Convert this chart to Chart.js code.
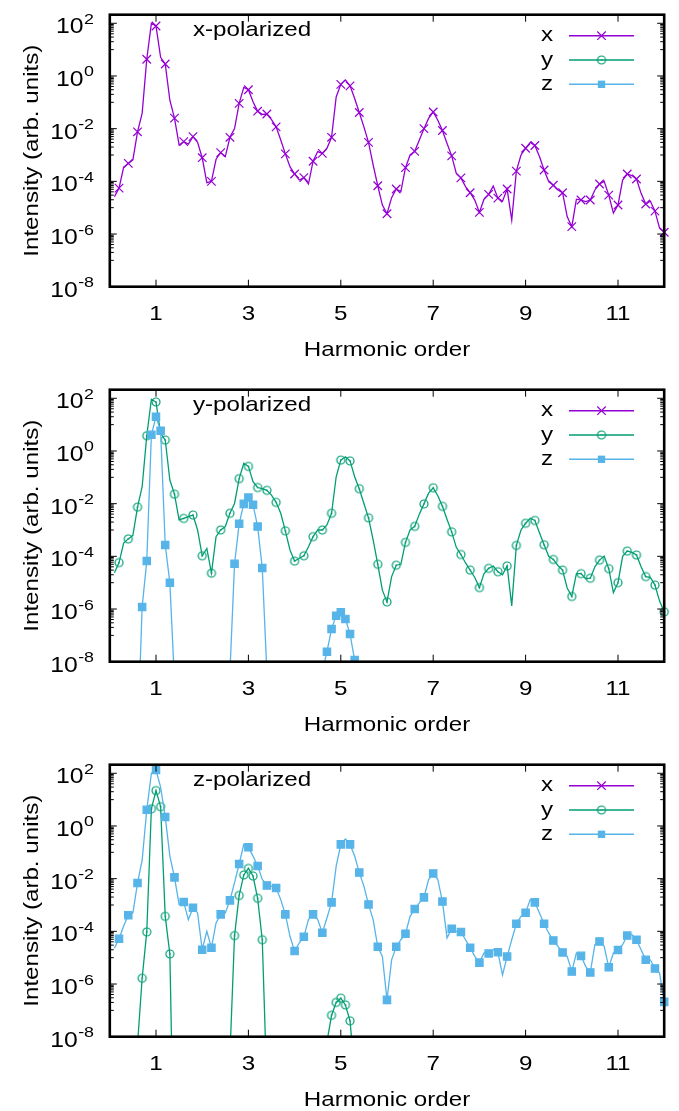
<!DOCTYPE html>
<html>
<head>
<meta charset="utf-8">
<script src="https://cdn.jsdelivr.net/npm/chart.js@4.4.1/dist/chart.umd.min.js"></script>
<style>
  html, body { margin: 0; padding: 0; background: #fff; overflow: hidden; }
  #wrap { position: relative; width: 679px; height: 1111px; }
  canvas { position: absolute; left: 0; }
</style>
</head>
<body>
<div id="wrap">
  <canvas id="panelX" width="679" height="375" style="top:0px"></canvas>
  <canvas id="panelY" width="679" height="375" style="top:375px"></canvas>
  <canvas id="panelZ" width="679" height="375" style="top:750px"></canvas>
</div>
<script>
// harmonic order of every sample (0.1 step)
const harmonic = [
  0.1, 0.2, 0.3, 0.4, 0.5, 0.6, 0.7, 0.8, 0.9, 1.0,
  1.1, 1.2, 1.3, 1.4, 1.5, 1.6, 1.7, 1.8, 1.9, 2.0,
  2.1, 2.2, 2.3, 2.4, 2.5, 2.6, 2.7, 2.8, 2.9, 3.0,
  3.1, 3.2, 3.3, 3.4, 3.5, 3.6, 3.7, 3.8, 3.9, 4.0,
  4.1, 4.2, 4.3, 4.4, 4.5, 4.6, 4.7, 4.8, 4.9, 5.0,
  5.1, 5.2, 5.3, 5.4, 5.5, 5.6, 5.7, 5.8, 5.9, 6.0,
  6.1, 6.2, 6.3, 6.4, 6.5, 6.6, 6.7, 6.8, 6.9, 7.0,
  7.1, 7.2, 7.3, 7.4, 7.5, 7.6, 7.7, 7.8, 7.9, 8.0,
  8.1, 8.2, 8.3, 8.4, 8.5, 8.6, 8.7, 8.8, 8.9, 9.0,
  9.1, 9.2, 9.3, 9.4, 9.5, 9.6, 9.7, 9.8, 9.9, 10.0,
  10.1, 10.2, 10.3, 10.4, 10.5, 10.6, 10.7, 10.8, 10.9, 11.0,
  11.1, 11.2, 11.3, 11.4, 11.5, 11.6, 11.7, 11.8, 11.9, 12.0
];

// x-polarized panel, x component
const xPolX = [
  2.6e-5, 5.5e-5, 3.5e-4, 4.8e-4, 6.5e-4, 7.6e-3, 3.8e-2, 4.3, 100, 79,
  5.1, 2.85, 0.12, 0.025, 2.4e-3, 3.2e-3, 2.6e-3, 5.0e-3, 3.0e-3, 7.9e-4,
  8.9e-5, 1.0e-4, 6.9e-4, 1.23e-3, 8.7e-4, 4.7e-3, 1.0e-2, 9.1e-2, 0.37, 0.30,
  0.105, 0.046, 0.035, 0.036, 0.022, 0.0117, 3.7e-3, 1.1e-3, 3.6e-4, 1.9e-4,
  1.12e-4, 1.38e-4, 7.9e-5, 5.8e-4, 1.35e-3, 1.15e-3, 1.8e-3, 4.7e-3, 0.16, 0.48,
  0.71, 0.42, 0.14, 0.041, 0.0117, 3.0e-3, 4.2e-4, 6.8e-5, 1.26e-5, 5.9e-6,
  2.4e-5, 5.1e-5, 4.1e-5, 3.3e-4, 1.0e-3, 1.38e-3, 3.7e-3, 1.0e-2, 0.0245, 0.043,
  0.021, 8.5e-3, 2.75e-3, 9.3e-4, 2.0e-4, 1.35e-4, 6.3e-5, 3.7e-5, 1.95e-5, 6.6e-6,
  2.1e-5, 3.2e-5, 6.6e-5, 2.3e-5, 1.74e-5, 5.1e-5, 3.4e-6, 2.45e-4, 1.0e-3, 1.8e-3,
  3.0e-3, 2.3e-3, 8.7e-4, 2.7e-4, 9.8e-5, 7.1e-5, 4.7e-5, 3.7e-5, 4.6e-6, 1.9e-6,
  2.1e-5, 1.95e-5, 1.7e-5, 1.95e-5, 4.7e-5, 7.9e-5, 1.0e-4, 3.0e-5, 6.2e-6, 1.26e-5,
  1.12e-4, 1.9e-4, 1.66e-4, 1.23e-4, 3.5e-5, 1.38e-5, 1.78e-5, 7.4e-6, 1.66e-6, 1.17e-6
];

// y-polarized panel, y component
const yPolY = [
  2.4e-5, 5.8e-5, 3.2e-4, 4.6e-4, 6.3e-4, 7.4e-3, 0.044, 3.8, 91, 72,
  4.7, 2.6, 0.079, 0.023, 2.4e-3, 2.75e-3, 3.2e-3, 3.7e-3, 1.0e-3, 1.05e-4,
  2.0e-4, 2.3e-5, 5.6e-4, 1.0e-3, 1.35e-3, 4.3e-3, 0.0102, 0.089, 0.34, 0.26,
  0.068, 0.041, 0.037, 0.032, 0.021, 0.0112, 4.3e-3, 9.3e-4, 1.74e-4, 6.6e-5,
  8.5e-5, 1.05e-4, 2.3e-4, 5.6e-4, 1.0e-3, 1.0e-3, 1.55e-3, 4.3e-3, 0.105, 0.45,
  0.6, 0.42, 0.105, 0.037, 0.0102, 2.9e-3, 4.2e-4, 5.0e-5, 5.2e-6, 1.86e-6,
  1.7e-5, 4.6e-5, 5.0e-5, 3.4e-4, 1.0e-3, 1.38e-3, 4.0e-3, 9.8e-3, 0.025, 0.04,
  0.02, 7.9e-3, 2.5e-3, 8.5e-4, 2.2e-4, 1.17e-4, 5.6e-5, 3.0e-5, 1.58e-5, 6.5e-6,
  2.2e-5, 3.5e-5, 4.3e-5, 2.6e-5, 2.0e-5, 4.3e-5, 1.32e-6, 2.6e-4, 1.0e-3, 1.8e-3,
  2.8e-3, 2.3e-3, 7.9e-4, 2.75e-4, 1.0e-4, 7.6e-5, 4.5e-5, 3.0e-5, 6.3e-6, 3.0e-6,
  2.2e-5, 2.2e-5, 1.41e-5, 1.48e-5, 4.0e-5, 7.2e-5, 1.02e-4, 3.4e-5, 4.2e-6, 1.0e-5,
  1.0e-4, 1.58e-4, 1.41e-4, 1.12e-4, 4.0e-5, 1.7e-5, 1.58e-5, 8.1e-6, 2.0e-6, 7.8e-7
];

// y-polarized panel, z component (only the parts near the plotted range)
const yPolZOrder = [
  0.6, 0.7, 0.8, 0.9, 1.0, 1.1, 1.2, 1.3, 1.4,
  2.6, 2.7, 2.8, 2.9, 3.0, 3.1, 3.2, 3.3, 3.4,
  4.6, 4.7, 4.8, 4.9, 5.0, 5.1, 5.2, 5.3, 5.4
];
const yPolZ = [
  8e-12, 1.2e-6, 6.6e-5, 4.1, 20, 5.9, 2.7e-4, 1.0e-5, 1.8e-9,
  3.9e-9, 5.2e-5, 1.74e-3, 9.8e-3, 0.017, 9.1e-3, 1.35e-3, 3.6e-5, 4e-9,
  4e-9, 2.4e-8, 1.74e-7, 5.6e-7, 7.6e-7, 4.2e-7, 1.12e-7, 1.15e-8, 1e-9
];

// z-polarized panel, z component
const zPolZ = [
  2.3e-5, 5.2e-5, 1.58e-4, 4.1e-4, 5.0e-4, 6.8e-3, 0.05, 4.1, 100, 133,
  30, 2.2, 0.072, 0.0112, 1.05e-3, 1.29e-3, 2.8e-4, 7.9e-4, 5.0e-4, 2.0e-5,
  1.0e-4, 2.4e-5, 2.1e-4, 4.4e-4, 5.0e-4, 1.5e-3, 7.1e-3, 0.036, 0.2, 0.155,
  0.072, 0.03, 9.3e-3, 5.5e-3, 5.2e-3, 4.4e-3, 1.6e-3, 4.4e-4, 6.5e-5, 1.78e-5,
  3.6e-5, 6.2e-5, 2.8e-4, 4.4e-4, 2.8e-4, 8.9e-5, 3.2e-4, 1.26e-3, 0.03, 0.2,
  0.32, 0.2, 0.072, 0.017, 5.2e-3, 1.05e-3, 2.8e-4, 2.6e-5, 1.12e-5, 2.5e-7,
  8.3e-6, 2.6e-5, 4.8e-5, 8.1e-5, 3.7e-4, 7.1e-4, 1.2e-3, 1.95e-3, 9.3e-3, 0.0158,
  9.3e-3, 1.35e-3, 5.6e-5, 1.26e-4, 1.0e-4, 9.5e-5, 4.8e-5, 2.4e-5, 1.12e-5, 6.5e-6,
  1.5e-5, 1.45e-5, 2.0e-5, 1.62e-5, 2.2e-6, 1.1e-5, 4.8e-5, 1.95e-4, 3.7e-4, 5.1e-4,
  1.6e-3, 1.26e-3, 5.0e-4, 1.95e-4, 8.7e-5, 4.5e-5, 2.7e-5, 1.58e-5, 1.12e-5, 3.0e-6,
  1.5e-5, 1.17e-5, 4.7e-6, 2.75e-6, 3.1e-5, 4.1e-5, 2.7e-5, 4.3e-6, 1.5e-5, 1.95e-5,
  3.1e-5, 6.9e-5, 7.6e-5, 4.8e-5, 2.0e-5, 8.3e-6, 8.3e-6, 3.9e-6, 2.6e-6, 2.1e-7
];

// z-polarized panel, y component
const zPolYOrder = [
  0.6, 0.7, 0.8, 0.9, 1.0, 1.1, 1.2, 1.3, 1.4,
  2.6, 2.7, 2.8, 2.9, 3.0, 3.1, 3.2, 3.3, 3.4,
  4.7, 4.8, 4.9, 5.0, 5.1, 5.2, 5.3
];
const zPolY = [
  5e-9, 1.66e-6, 9.5e-5, 4.5, 22, 5.4, 3.7e-4, 1.38e-5, 1e-14,
  1.9e-9, 6.9e-5, 2.3e-3, 0.0138, 0.0245, 0.0126, 1.8e-3, 4.8e-5, 1.3e-10,
  6.3e-9, 6.5e-8, 2.0e-7, 2.9e-7, 1.6e-7, 4.0e-8, 4e-10
];

const xTicks = [1, 3, 5, 7, 9, 11];
const xTickLabels = ['1', '3', '5', '7', '9', '11'];
const yTicks = [1e2, 1e0, 1e-2, 1e-4, 1e-6, 1e-8];
const yTickExponents = ['2', '0', '-2', '-4', '-6', '-8'];
const legendKeys = ['x', 'y', 'z'];

const TEXT_STRETCH = 1.15;
const FONT = '"Liberation Sans", Arial, Helvetica, sans-serif';

// open circle with a centre dot (gnuplot style)
function ringMark(color) {
  const c = document.createElement('canvas');
  c.width = 12; c.height = 12;
  const g = c.getContext('2d');
  g.strokeStyle = color; g.lineWidth = 1.2;
  g.beginPath(); g.arc(6, 6, 4.0, 0, Math.PI * 2); g.stroke();
  g.fillStyle = color;
  g.beginPath(); g.arc(6, 6, 0.8, 0, Math.PI * 2); g.fill();
  return c;
}
const ringImg = ringMark('#009e73');

const seriesStyle = {
  x: { color: '#9400d3', pointStyle: 'crossRot', radius: 6, order: 3 },
  y: { color: '#009e73', pointStyle: ringImg, radius: 4.5, order: 2 },
  z: { color: '#56b4e9', pointStyle: 'rect', radius: 5.2, order: 1 },
};

function lineSet(key, xs, ys, markEvery) {
  const s = seriesStyle[key];
  return {
    label: key,
    data: xs.map((h, i) => ({ x: h, y: ys[i] })),
    borderColor: s.color,
    backgroundColor: s.color,
    borderWidth: 1.3,
    tension: 0,
    pointStyle: s.pointStyle,
    pointRadius: c => (c.dataIndex % markEvery === markEvery - 1 ? s.radius : 0),
    pointBorderWidth: 1.2,
    pointBorderColor: s.color,
    pointBackgroundColor: s.color,
    clip: { left: 8, top: 8, right: 8, bottom: 0 },
    order: s.order,
  };
}

function putText(ctx, str, x, y, size, align, angle) {
  ctx.save();
  ctx.translate(x, y);
  if (angle) ctx.rotate(angle);
  ctx.scale(TEXT_STRETCH, 1);
  ctx.font = size + 'px ' + FONT;
  ctx.textAlign = align;
  ctx.textBaseline = 'alphabetic';
  ctx.fillStyle = '#000';
  ctx.fillText(str, 0, 0);
  ctx.restore();
}

function textWidth(ctx, str, size) {
  ctx.save();
  ctx.font = size + 'px ' + FONT;
  const w = ctx.measureText(str).width * TEXT_STRETCH;
  ctx.restore();
  return w;
}

function drawMark(ctx, key, x, y) {
  const s = seriesStyle[key];
  ctx.save();
  ctx.strokeStyle = s.color;
  ctx.fillStyle = s.color;
  ctx.lineWidth = 1.2;
  const d = s.radius * Math.SQRT1_2;
  if (key === 'x') {
    ctx.beginPath();
    ctx.moveTo(x - d, y - d); ctx.lineTo(x + d, y + d);
    ctx.moveTo(x - d, y + d); ctx.lineTo(x + d, y - d);
    ctx.stroke();
  } else if (key === 'y') {
    ctx.drawImage(ringImg, x - ringImg.width / 2, y - ringImg.height / 2);
  } else {
    ctx.fillRect(x - d, y - d, 2 * d, 2 * d);
  }
  ctx.restore();
}

// gnuplot-like frame: inward ticks, thick border, labels, key
function framePlugin(panelLabel) {
  return {
    id: 'gnuplotFrame',
    afterDraw(chart) {
      const { ctx, chartArea: a, scales: { x, y } } = chart;
      ctx.save();
      ctx.strokeStyle = '#000';
      ctx.lineWidth = 1;
      ctx.beginPath();
      xTicks.forEach(v => {
        const px = x.getPixelForValue(v);
        ctx.moveTo(px, a.bottom); ctx.lineTo(px, a.bottom - 7);
        ctx.moveTo(px, a.top); ctx.lineTo(px, a.top + 7);
      });
      yTicks.forEach(v => {
        const py = y.getPixelForValue(v);
        ctx.moveTo(a.left, py); ctx.lineTo(a.left + 7, py);
        ctx.moveTo(a.right, py); ctx.lineTo(a.right - 7, py);
        for (let k = 1; k <= 9; k++) {
          const m = k * v / 10;
          if (m < y.min) continue;
          const pm = y.getPixelForValue(m);
          ctx.moveTo(a.left, pm); ctx.lineTo(a.left + 4, pm);
          ctx.moveTo(a.right, pm); ctx.lineTo(a.right - 4, pm);
        }
      });
      ctx.stroke();
      ctx.lineWidth = 2.6;
      ctx.strokeRect(a.left, a.top, a.right - a.left, a.bottom - a.top);

      // tick labels
      xTicks.forEach((v, i) => {
        putText(ctx, xTickLabels[i], x.getPixelForValue(v), 320, 21, 'center');
      });
      yTicks.forEach((v, i) => {
        const py = y.getPixelForValue(v);
        const ex = yTickExponents[i];
        const w = textWidth(ctx, ex, 15.5);
        putText(ctx, ex, 94, py + 0.5, 15.5, 'right');
        putText(ctx, '10', 94 - w - 0.5, py + 10, 21.5, 'right');
      });

      // axis titles
      putText(ctx, 'Harmonic order', (a.left + a.right) / 2, 356, 21, 'center');
      putText(ctx, 'Intensity (arb. units)', 38, (a.top + a.bottom) / 2, 21, 'center', -Math.PI / 2);

      // panel label
      putText(ctx, panelLabel, 193, 36, 21, 'left');

      // key
      legendKeys.forEach((k, i) => {
        const ry = 35.7 + i * 24.3;
        putText(ctx, k, 553, ry + 5.5, 21, 'right');
        ctx.strokeStyle = seriesStyle[k].color;
        ctx.lineWidth = 1.4;
        ctx.beginPath(); ctx.moveTo(569, ry); ctx.lineTo(634, ry); ctx.stroke();
        drawMark(ctx, k, 601.5, ry);
      });
      ctx.restore();
    }
  };
}

function makePanel(id, label, datasets) {
  new Chart(document.getElementById(id), {
    type: 'line',
    data: { datasets },
    options: {
      responsive: false,
      animation: false,
      devicePixelRatio: 1,
      events: [],
      layout: { padding: { left: 0, right: 14.8, top: 14.7, bottom: 0 } },
      plugins: { legend: { display: false }, tooltip: { enabled: false } },
      scales: {
        x: {
          type: 'linear', min: 0, max: 12,
          grid: { display: false }, border: { display: false },
          ticks: { display: false },
          afterBuildTicks: s => { s.ticks = xTicks.map(v => ({ value: v })); },
          afterFit: s => { s.height = 375 - 286.7; }
        },
        y: {
          type: 'logarithmic', min: 1e-8, max: 212,
          grid: { display: false }, border: { display: false },
          ticks: { display: false },
          afterBuildTicks: s => { s.ticks = yTicks.map(v => ({ value: v })); },
          afterFit: s => { s.width = 109.8; }
        }
      }
    },
    plugins: [framePlugin(label)]
  });
}

makePanel('panelX', 'x-polarized', [
  lineSet('x', harmonic, xPolX, 2),
  lineSet('y', [], [], 1),
  lineSet('z', [], [], 1),
]);
makePanel('panelY', 'y-polarized', [
  lineSet('x', [], [], 1),
  lineSet('y', harmonic, yPolY, 2),
  lineSet('z', yPolZOrder, yPolZ, 1),
]);
makePanel('panelZ', 'z-polarized', [
  lineSet('x', [], [], 1),
  lineSet('y', zPolYOrder, zPolY, 1),
  lineSet('z', harmonic, zPolZ, 2),
]);
</script>
</body>
</html>
